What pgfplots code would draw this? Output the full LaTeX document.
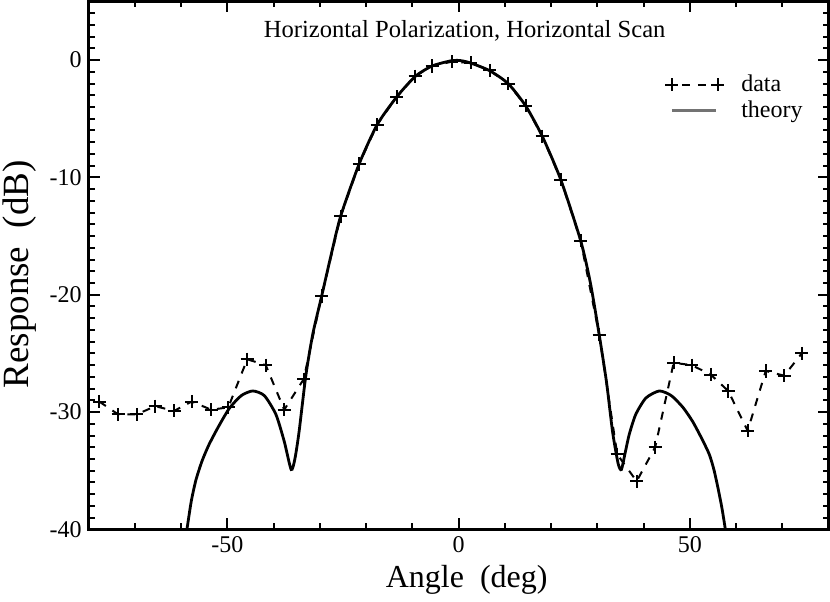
\documentclass[border=0pt]{standalone}
\usepackage{fontspec}
\setmainfont{Liberation Serif}
\usepackage{pgfplots}
\pgfplotsset{compat=1.18}
\pgfplotsset{
  datalegend/.style={legend image code/.code={\path (-4pt,0pt) (27pt,0pt);\draw[##1, dash phase=3pt] plot coordinates {(0pt,0pt) (23pt,0pt)};}},
  theorylegend/.style={legend image code/.code={\path (-4pt,0pt) (27pt,0pt);\draw[##1, black!55] (0pt,0pt) -- (22pt,0pt);}},
}
\begin{document}
\begin{tikzpicture}
\useasboundingbox (-44.3pt,-36pt) rectangle (370.7pt,264.7pt);
\begin{axis}[
  scale only axis,
  width=370pt, height=264pt,
  xmin=-80, xmax=80, ymin=-40, ymax=5,
  xtick={-50,0,50}, ytick={-40,-30,-20,-10,0},
  minor xtick={-80,-70,...,80},
  minor ytick={-40,-39,...,5},
  tick align=inside,
  major tick length=5.5pt, minor tick length=3pt,
  axis line style={line width=1.5pt},
  every tick/.style={black, line width=1pt},
  /pgf/number format/assume math mode=true,
  tick label style={font=\fontsize{12}{14}\selectfont},
  xlabel={Angle\ \ (deg)}, ylabel={Response\ \ (dB)},
  xlabel style={font=\fontsize{16}{19}\selectfont, at={(axis description cs:0.511,-0.095)}, anchor=center},
  ylabel style={font=\fontsize{18.5}{21}\selectfont, at={(axis description cs:-0.093,0.483)}, anchor=center},
  legend style={draw=none, fill=none, at={(axis cs:44,-0.9)}, anchor=north west,
     font=\fontsize{12}{14}\selectfont, inner sep=0pt, row sep=-1pt,
     /tikz/every odd column/.append style={column sep=5pt}},
  legend cell align=left,
]
\addplot[black, line width=1pt, dash pattern=on 4pt off 4pt, mark=+, mark size=3.3pt,
  mark options={solid, line width=1pt}, datalegend]
coordinates {
(-77.7,-29.1) (-73.6,-30.2) (-69.6,-30.2) (-65.6,-29.5) (-61.5,-29.9)
(-57.7,-29.1) (-53.5,-29.8) (-49.8,-29.6) (-45.7,-25.5) (-41.7,-26.0)
(-37.7,-29.8) (-33.5,-27.2) (-29.6,-20.1) (-25.5,-13.3) (-21.5,-8.85)
(-17.6,-5.5) (-13.4,-3.15) (-9.4,-1.37) (-5.7,-0.5) (-1.5,-0.14)
(2.6,-0.23) (6.7,-0.88) (10.7,-2.0) (14.5,-3.9) (18.1,-6.5)
(22.1,-10.2) (26.4,-15.4) (30.4,-23.4) (34.3,-33.6) (38.5,-35.9)
(42.5,-33.0) (46.5,-25.8) (50.4,-26.0) (54.5,-26.8) (58.3,-28.2)
(62.5,-31.6) (66.4,-26.5) (70.4,-26.9) (74.2,-25.0)
};
\addlegendentry{data}
\addplot[black, line width=1.4pt, smooth, tension=0.4, theorylegend]
coordinates {
(-59.3,-41.5) (-58.7,-39.9) (-57.8,-37.6) (-56.8,-35.8) (-55.5,-34.2) (-54,-32.8)
(-52,-31.3) (-49.6,-29.7)
(-47,-28.6) (-44.5,-28.2) (-42,-28.6) (-39.5,-30.2) (-37.7,-32.5)
(-36.2,-34.9) (-35.4,-34.0) (-34.5,-31.7) (-33,-26.8) (-31.5,-23.3)
(-29.6,-20.1) (-27.5,-16.5) (-25.5,-13.3) (-21.5,-8.85) (-17.6,-5.5)
(-13.4,-3.15) (-9.4,-1.4) (-5.7,-0.5) (-1.5,-0.05) (0.5,-0.05)
(2.6,-0.25) (6.7,-0.9) (10.7,-2.0) (14.5,-3.9) (18.1,-6.5)
(22.1,-10.2) (26.4,-15.4) (28.5,-19.0) (30.4,-23.4) (32,-27.5)
(33.3,-31.7) (34.5,-34.4) (35.2,-34.9) (36,-33.5) (36.9,-31.9)
(38.3,-30.2) (40.5,-28.8) (43.4,-28.2) (46,-28.6) (48.5,-29.6)
(50.6,-30.8) (52.5,-32.2) (54.2,-33.6) (55.2,-34.9) (56.1,-36.5) (56.9,-38.1)
(57.6,-39.8) (58.2,-41.5)
};
\addlegendentry{theory}
\node[font=\fontsize{12.3}{14}\selectfont] at (axis cs:1.3,2.5) {Horizontal Polarization, Horizontal Scan};
\end{axis}
\end{tikzpicture}
\end{document}
